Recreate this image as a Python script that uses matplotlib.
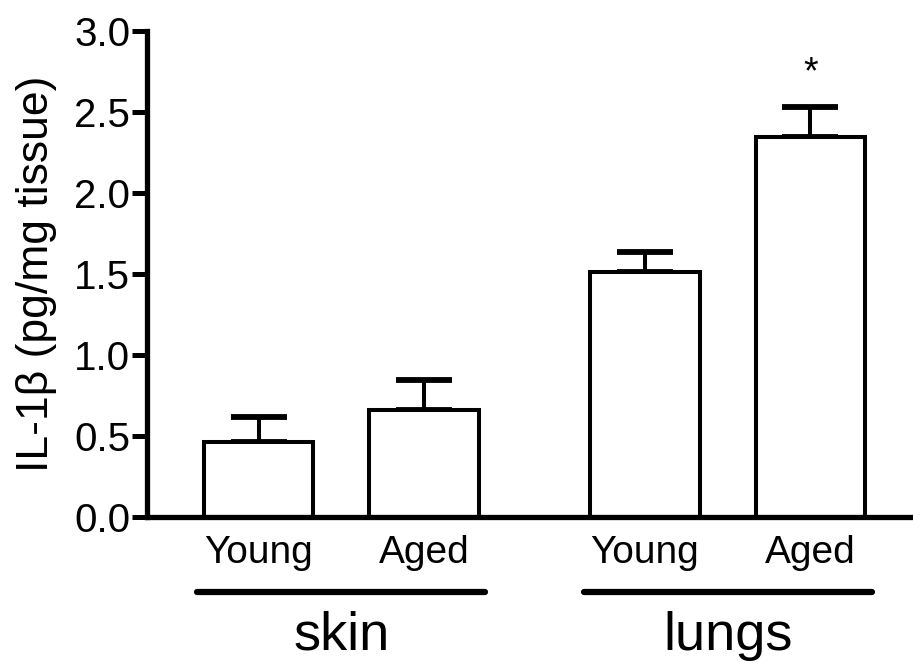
import numpy as np
import matplotlib.pyplot as plt

plt.rcParams['font.family'] = ['Liberation Sans', 'DejaVu Sans']

groups = ['skin', 'lungs']
ages = ['Young', 'Aged', 'Young', 'Aged']
means = [0.463, 0.660, 1.512, 2.346]
sem = [0.154, 0.186, 0.124, 0.185]
stars = ['', '', '', '*']

pos = np.array([0, 1, 2.335, 3.335])

fig = plt.figure(figsize=(9.13, 6.62), dpi=100)
ax = fig.add_axes([0.161, 0.219, 0.839, 0.734])

ax.bar(pos, means, width=0.66, color='white', edgecolor='black', linewidth=2.9, zorder=2)
ax.errorbar(pos, means, yerr=[np.zeros(4), sem], fmt='none', ecolor='black',
            elinewidth=2.9, capsize=20.5, capthick=4.2, zorder=1)

for x, m, s, t in zip(pos, means, sem, stars):
    if t:
        ax.text(x, m + s + 0.1, t, ha='center', va='bottom', fontsize=27)

ax.set_xlim(-0.674, 3.955)
ax.set_ylim(0, 3.0)
ax.set_yticks(np.arange(0, 3.01, 0.5))
ax.set_yticklabels([f'{v:.1f}' for v in np.arange(0, 3.01, 0.5)])
ax.set_xticks(pos)
ax.set_xticklabels(ages)
ax.tick_params(axis='y', length=11, width=3.6, labelsize=29, pad=1)
ax.tick_params(axis='x', length=0, labelsize=28, pad=13)

for side in ['top', 'right']:
    ax.spines[side].set_visible(False)
for side in ['left', 'bottom']:
    ax.spines[side].set_linewidth(3.8)

ax.set_ylabel('IL-1β (pg/mg tissue)', fontsize=32)
ax.yaxis.set_label_coords(-0.118, 0.5)

# group underlines and names
for i, g in enumerate(groups):
    c = (pos[2 * i] + pos[2 * i + 1]) / 2
    ax.plot([c - 0.87, c + 0.87], [-0.463, -0.463], color='black', linewidth=4.5,
            solid_capstyle='round', clip_on=False)
    ax.text(c, -0.821, g, ha='center', va='baseline', fontsize=39)

fig.savefig('out.png', dpi=100)
